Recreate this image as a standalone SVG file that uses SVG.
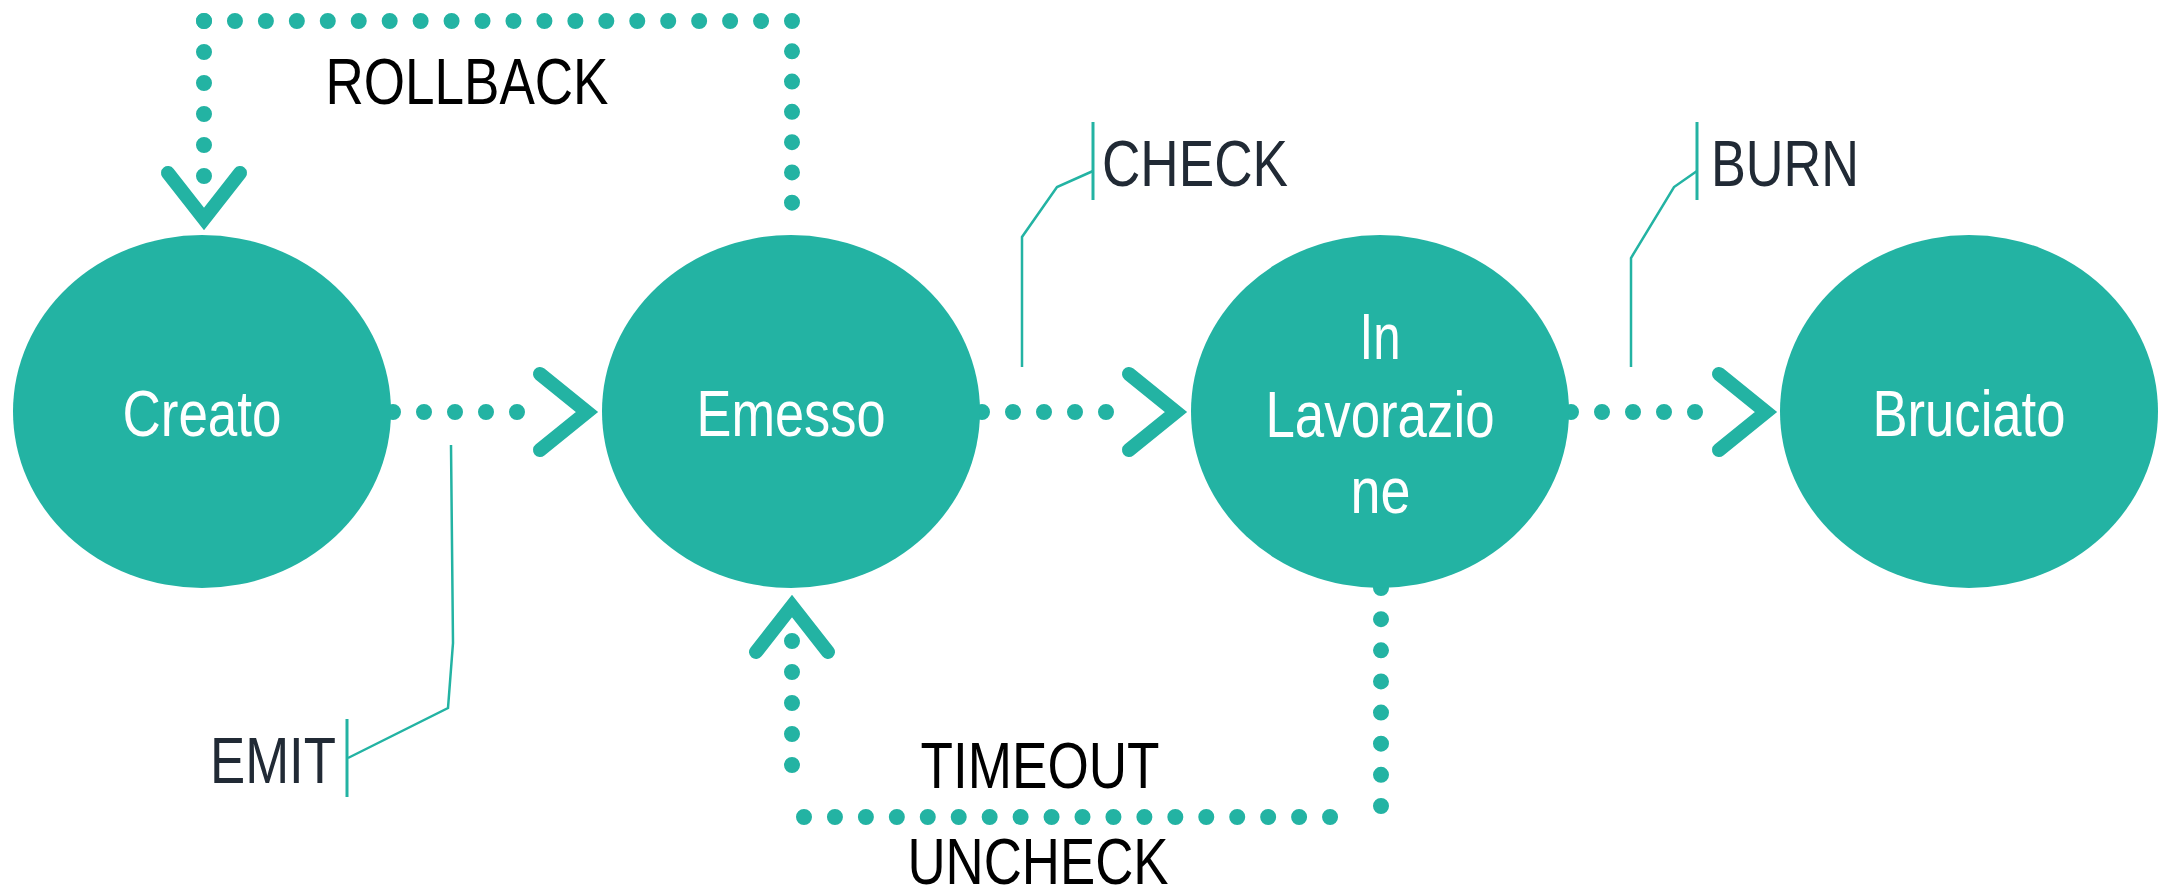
<svg xmlns="http://www.w3.org/2000/svg" width="2162" height="887" viewBox="0 0 2162 887">
<style>
.node{fill:#23b3a3}
.lbl{font-family:"Liberation Sans",Arial,sans-serif;font-size:64px;fill:#ffffff;text-anchor:middle}
.dots{fill:none;stroke:#23b3a3;stroke-width:16;stroke-linecap:round;stroke-dasharray:0 1}
.chev{fill:none;stroke:#23b3a3;stroke-width:14;stroke-linecap:round;stroke-linejoin:miter}
.call{fill:none;stroke:#23b3a3;stroke-width:2.5}
.bar{fill:none;stroke:#23b3a3;stroke-width:3}
.elbl{font-family:"Liberation Sans",Arial,sans-serif;font-size:64px;fill:#000000;text-anchor:middle}
.clbl{font-family:"Liberation Sans",Arial,sans-serif;font-size:64px;fill:#212a35}
</style>
<rect width="2162" height="887" fill="#ffffff"/>
<g id="connectors">
  <!-- Creato -> Emesso (EMIT) -->
  <path class="dots" pathLength="5" d="M393,412 H548"/>
  <path class="chev" d="M540,374 L587,412 L540,450"/>
  <!-- Emesso -> In Lavorazione (CHECK) -->
  <path class="dots" pathLength="5" d="M982,412 H1137"/>
  <path class="chev" d="M1129,374 L1176,412 L1129,450"/>
  <!-- In Lavorazione -> Bruciato (BURN) -->
  <path class="dots" pathLength="5" d="M1571,412 H1726"/>
  <path class="chev" d="M1719,374 L1766,412 L1719,450"/>
  <!-- Emesso -> Creato (ROLLBACK) -->
  <path class="dots" pathLength="7" d="M792,21 V233"/>
  <path class="dots" pathLength="19" d="M204,21 H792"/>
  <path class="dots" pathLength="6" d="M204,21 V207"/>
  <path class="chev" d="M168,173 L204,219 L240,173"/>
  <!-- In Lavorazione -> Emesso (TIMEOUT / UNCHECK) -->
  <path class="dots" pathLength="7" d="M1381,588 V806"/>
  <path class="dots" pathLength="18" d="M804,817 H1361"/>
  <path class="dots" pathLength="5" d="M792,641 V796"/>
  <path class="chev" d="M756,652 L792,606 L828,652"/>
  <!-- callout lines -->
  <polyline class="call" points="451,445 453,643 448,708 348,758"/>
  <line class="bar" x1="347" y1="719" x2="347" y2="797"/>
  <polyline class="call" points="1022,367 1022,237 1057,187 1093,171"/>
  <line class="bar" x1="1093" y1="122" x2="1093" y2="200"/>
  <polyline class="call" points="1631,367 1631,258 1674,187 1697,171"/>
  <line class="bar" x1="1697" y1="122" x2="1697" y2="200"/>
  <!-- connector labels -->
  <text class="elbl" x="467" y="104" textLength="283" lengthAdjust="spacingAndGlyphs">ROLLBACK</text>
  <text class="elbl" x="1040" y="788" textLength="239" lengthAdjust="spacingAndGlyphs">TIMEOUT</text>
  <text class="elbl" x="1038" y="884" textLength="261" lengthAdjust="spacingAndGlyphs">UNCHECK</text>
  <text class="clbl" x="210" y="783" textLength="126" lengthAdjust="spacingAndGlyphs">EMIT</text>
  <text class="clbl" x="1102" y="186" textLength="186" lengthAdjust="spacingAndGlyphs">CHECK</text>
  <text class="clbl" x="1711" y="186" textLength="148" lengthAdjust="spacingAndGlyphs">BURN</text>
</g>
<g id="node-creato">
  <ellipse class="node" cx="202" cy="411.5" rx="189" ry="176.5"/>
  <text class="lbl" x="202" y="436" textLength="159" lengthAdjust="spacingAndGlyphs">Creato</text>
</g>
<g id="node-emesso">
  <ellipse class="node" cx="791" cy="411.5" rx="189" ry="176.5"/>
  <text class="lbl" x="791" y="436" textLength="189" lengthAdjust="spacingAndGlyphs">Emesso</text>
</g>
<g id="node-in-lavorazione">
  <ellipse class="node" cx="1380" cy="411.5" rx="189" ry="176.5"/>
  <text class="lbl" x="1380" y="359" textLength="41" lengthAdjust="spacingAndGlyphs">In</text>
  <text class="lbl" x="1380" y="437" textLength="229" lengthAdjust="spacingAndGlyphs">Lavorazio</text>
  <text class="lbl" x="1380.5" y="513" textLength="60" lengthAdjust="spacingAndGlyphs">ne</text>
</g>
<g id="node-bruciato">
  <ellipse class="node" cx="1969" cy="411.5" rx="189" ry="176.5"/>
  <text class="lbl" x="1969" y="436" textLength="193" lengthAdjust="spacingAndGlyphs">Bruciato</text>
</g>
</svg>
